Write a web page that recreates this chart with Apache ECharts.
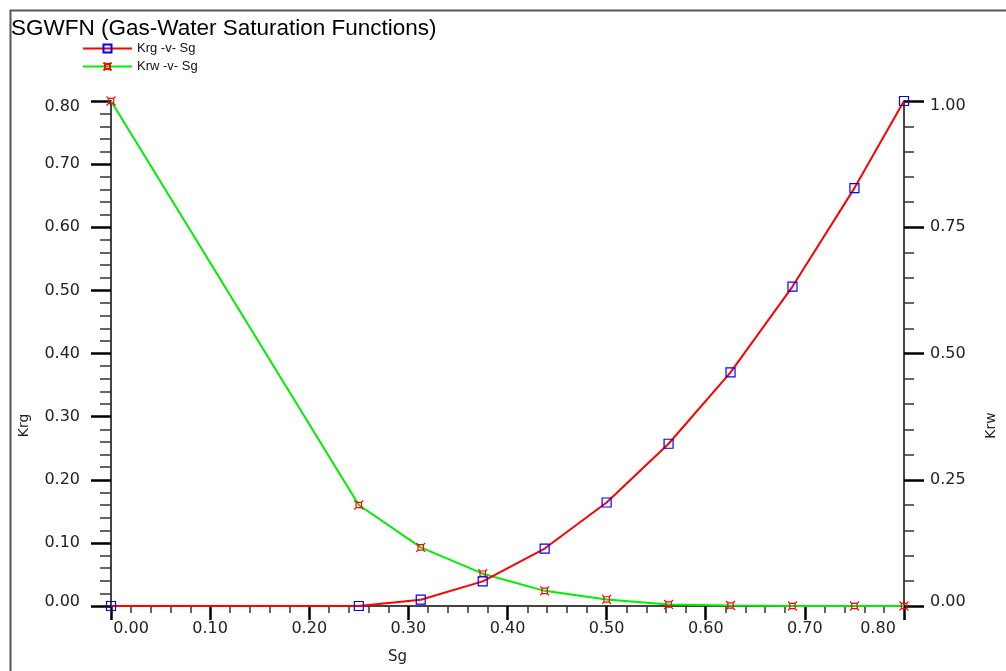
<!DOCTYPE html>
<html>
<head>
<meta charset="utf-8">
<script src="https://cdn.jsdelivr.net/npm/echarts@6/dist/echarts.min.js"></script>
<style>
html,body{margin:0;padding:0;background:#fff;}
#chart{width:1006px;height:671px;}
</style>
</head>
<body>
<div id="chart"></div>
<script>
// Data
const sg  = [0, 0.25, 0.3125, 0.375, 0.4375, 0.5, 0.5625, 0.625, 0.6875, 0.75, 0.80];
const krg = [0, 0, 0.010, 0.039, 0.091, 0.164, 0.257, 0.370, 0.506, 0.662, 0.800];
const krw = [1.0, 0.200, 0.116, 0.064, 0.030, 0.013, 0.003, 0.001, 0.0, 0.0, 0.0];
const xTicks = {min: 0, max: 0.8, interval: 0.1};
const krgTicks = {min: 0, max: 0.8, interval: 0.1};
const krwTicks = {min: 0, max: 1.0, interval: 0.25};

const FONT = 'DejaVu Sans';
const chart = echarts.init(document.getElementById('chart'), null, {renderer: 'canvas'});

const krwSymbol = 'path://M2,2 L8,2 L8,8 L2,8 Z M0,0 L2,2 M10,0 L8,2 M0,10 L2,8 M10,10 L8,8';

const labelStyle = {color: '#222', fontFamily: FONT, fontSize: 16};
const rs = (pad) => ({padding: pad, fontFamily: FONT, fontSize: 16, color: '#222'});
const near = (a, b) => Math.abs(a - b) < 1e-9;

chart.setOption({
  animation: false,
  backgroundColor: '#fff',
  title: {
    text: 'SGWFN (Gas-Water Saturation Functions)',
    left: 6, top: 12,
    textStyle: {fontFamily: 'Liberation Sans', fontSize: 22.5, fontWeight: 'normal', color: '#000'}
  },
  legend: {
    orient: 'vertical',
    left: 77, top: 37,
    itemWidth: 49, itemHeight: 10, itemGap: 5,
    textStyle: {fontFamily: 'Liberation Sans', fontSize: 13, color: '#111'},
    data: ['Krg -v- Sg', 'Krw -v- Sg']
  },
  graphic: [{
    type: 'rect', left: 8, top: 8, silent: true,
    shape: {width: 1100, height: 800},
    style: {fill: 'none', stroke: '#555', lineWidth: 2}
  }],
  grid: {left: 111, right: 97, top: 101, bottom: 65},
  xAxis: {
    type: 'value', min: xTicks.min, max: xTicks.max, interval: xTicks.interval,
    name: 'Sg', nameLocation: 'middle', nameGap: 44,
    nameTextStyle: {fontFamily: FONT, fontSize: 15, color: '#222', padding: [0, 220, 0, 0]},
    axisLine: {show: true, onZero: false, lineStyle: {color: '#444', width: 2}},
    axisTick: {show: true, inside: false, length: 14, lineStyle: {color: '#000', width: 2.5}},
    minorTick: {show: true, splitNumber: 5, length: 7, lineStyle: {color: '#333', width: 1.5}},
    splitLine: {show: false},
    axisLabel: Object.assign({}, labelStyle, {
      margin: 15,
      formatter: v => near(v, xTicks.min) ? '{s|' + v.toFixed(2) + '}'
                    : near(v, xTicks.max) ? '{e|' + v.toFixed(2) + '}' : v.toFixed(2),
      rich: {s: rs([0, 0, 0, 40]), e: rs([0, 52, 0, 0])}
    })
  },
  yAxis: [{
    type: 'value', position: 'left', min: krgTicks.min, max: krgTicks.max, interval: krgTicks.interval,
    name: 'Krg', nameLocation: 'middle', nameGap: 80, nameRotate: 90,
    nameTextStyle: {fontFamily: FONT, fontSize: 14, color: '#222', padding: [0, 144, 0, 0]},
    axisLine: {show: true, onZero: false, lineStyle: {color: '#444', width: 2}},
    axisTick: {show: true, inside: false, length: 20, lineStyle: {color: '#000', width: 2.5}},
    minorTick: {show: true, splitNumber: 5, length: 11, lineStyle: {color: '#333', width: 1.5}},
    splitLine: {show: false},
    axisLabel: Object.assign({}, labelStyle, {
      margin: 31,
      formatter: v => near(v, krgTicks.max) ? '{t|' + v.toFixed(2) + '}'
                    : near(v, krgTicks.min) ? '{b|' + v.toFixed(2) + '}' : v.toFixed(2),
      rich: {t: rs([11, 0, 0, 0]), b: rs([0, 0, 8, 0])}
    })
  }, {
    type: 'value', position: 'right', min: krwTicks.min, max: krwTicks.max, interval: krwTicks.interval,
    name: 'Krw', nameLocation: 'middle', nameGap: 80, nameRotate: 90,
    nameTextStyle: {fontFamily: FONT, fontSize: 14, color: '#222', padding: [0, 144, 0, 0]},
    axisLine: {show: true, onZero: false, lineStyle: {color: '#444', width: 2}},
    axisTick: {show: true, inside: false, length: 20, lineStyle: {color: '#000', width: 2.5}},
    minorTick: {show: true, splitNumber: 5, length: 10, lineStyle: {color: '#333', width: 1.5}},
    splitLine: {show: false},
    axisLabel: Object.assign({}, labelStyle, {
      margin: 26,
      formatter: v => near(v, krwTicks.max) ? '{t|' + v.toFixed(2) + '}'
                    : near(v, krwTicks.min) ? '{b|' + v.toFixed(2) + '}' : v.toFixed(2),
      rich: {t: rs([10, 0, 0, 0]), b: rs([0, 0, 9, 0])}
    })
  }],
  series: [{
    name: 'Krw -v- Sg', type: 'line', yAxisIndex: 1,
    data: sg.map((x, i) => [x, krw[i]]),
    lineStyle: {color: '#00ee00', width: 2},
    symbol: krwSymbol, symbolSize: 9, showAllSymbol: true,
    itemStyle: {color: 'rgba(0,0,0,0)', borderColor: '#ff0000', borderWidth: 1.2},
    z: 2
  }, {
    name: 'Krg -v- Sg', type: 'line', yAxisIndex: 0,
    data: sg.map((x, i) => [x, krg[i]]),
    lineStyle: {color: '#ff0000', width: 2},
    symbol: 'rect', symbolSize: 9, showAllSymbol: true,
    itemStyle: {color: 'rgba(0,0,0,0)', borderColor: '#0000ff', borderWidth: 1.2},
    z: 3
  }]
});
</script>
</body>
</html>
